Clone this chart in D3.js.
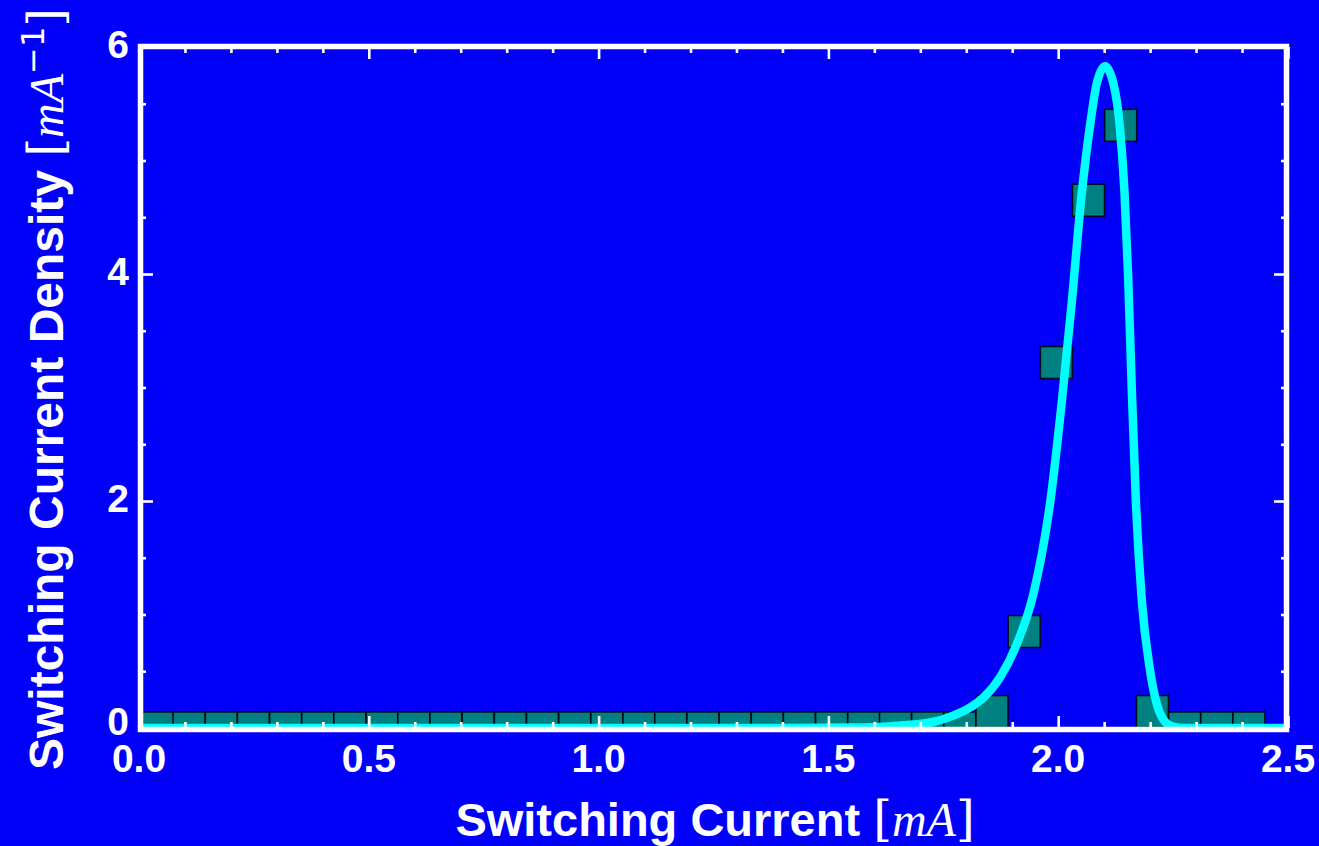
<!DOCTYPE html>
<html>
<head>
<meta charset="utf-8">
<script src="https://cdn.jsdelivr.net/npm/d3@7"></script>
<style>
html,body{margin:0;padding:0;background:#0000f8;}
svg{display:block;}
</style>
</head>
<body>
<svg id="chart" width="1319" height="846"></svg>
<script>
// ---- data ----
const binCenters = [0.040,0.109,0.179,0.249,0.319,0.389,0.459,0.529,0.598,0.668,
  0.738,0.808,0.878,0.948,1.018,1.088,1.157,1.227,1.297,1.367,
  1.437,1.507,1.577,1.646,1.716,1.786,1.856,1.926,1.996,2.066,
  2.136,2.205,2.275,2.345,2.415];
const densities = [0,0,0,0,0,0,0,0,0,0,
  0,0,0,0,0,0,0,0,0,0,
  0,0,0,0,0,0,0.145,0.85,3.22,4.65,
  5.31,0.145,0,0,0];
const fitX = [0,1.40,1.554,1.624,1.684,1.730,1.766,1.804,1.838,1.874,1.910,1.946,1.983,2.008,2.030,2.051,2.069,2.084,2.102,2.120,2.134,2.144,2.152,2.160,2.169,2.182,2.199,2.214,2.228,2.248,2.274,2.5];
const fitY = [0,0,0.004,0.012,0.03,0.055,0.10,0.17,0.27,0.45,0.74,1.18,2.0,2.88,3.77,4.7,5.3,5.68,5.83,5.68,5.3,4.74,4.0,3.0,2.0,1.12,0.53,0.22,0.08,0.015,0,0];
const xTicks = [0.0,0.5,1.0,1.5,2.0,2.5];
const xTickLabels = ["0.0","0.5","1.0","1.5","2.0","2.5"];
const yTicks = [0,2,4,6];
const yTickLabels = ["0","2","4","6"];

// ---- layout ----
const svg = d3.select("#chart");
const W = 1319, H = 846;
const pL = 139, pR = 1288, pT = 47, pB = 728;
const x = d3.scaleLinear().domain([0,2.5]).range([pL,pR]);
const y = d3.scaleLinear().domain([0,6]).range([pB,pT]);

svg.append("rect").attr("width",W).attr("height",H).attr("fill","#0000f8");

const defs = svg.append("defs");
defs.append("clipPath").attr("id","plotclip").append("rect")
  .attr("x",pL).attr("y",pT).attr("width",pR-pL).attr("height",pB-pT+2);

const plot = svg.append("g").attr("clip-path","url(#plotclip)");

// squares (histogram markers)
const sq = 32;
plot.selectAll("rect.sq").data(binCenters.map((c,i)=>({c, v:densities[i]})))
  .enter().append("rect").attr("class","sq")
  .attr("x",d=>x(d.c)-sq/2).attr("y",d=>y(d.v)-sq/2)
  .attr("width",sq).attr("height",sq)
  .attr("fill","#008080").attr("stroke","#000").attr("stroke-width",1.6).attr("stroke-opacity",0.85);

// fit curve
const line = d3.line().x(d=>x(d[0])).y(d=>y(d[1])).curve(d3.curveMonotoneX);
plot.append("path").datum(fitX.map((v,i)=>[v,fitY[i]]))
  .attr("d",line).attr("fill","none").attr("stroke","#00ffff")
  .attr("stroke-width",8.5).attr("stroke-linejoin","round");

// ticks via d3 axes (inward)
const xMinor = d3.range(0,26).map(i=>i/10).filter(v=>!xTicks.some(t=>Math.abs(t-v)<1e-9));
const yMinor = d3.range(0,13).map(i=>i/2).filter(v=>!yTicks.some(t=>Math.abs(t-v)<1e-9));

function styleAxis(g){
  g.select(".domain").remove();
  g.selectAll("line").attr("stroke","#fff").attr("stroke-width",2.6);
  g.selectAll("text").remove();
}
// bottom
svg.append("g").attr("transform",`translate(0,${pB})`)
  .call(d3.axisTop(x).tickValues(xTicks).tickSize(12)).call(styleAxis);
svg.append("g").attr("transform",`translate(0,${pB})`)
  .call(d3.axisTop(x).tickValues(xMinor).tickSize(6)).call(styleAxis);
// top
svg.append("g").attr("transform",`translate(0,${pT})`)
  .call(d3.axisBottom(x).tickValues(xTicks).tickSize(12)).call(styleAxis);
svg.append("g").attr("transform",`translate(0,${pT})`)
  .call(d3.axisBottom(x).tickValues(xMinor).tickSize(6)).call(styleAxis);
// left
svg.append("g").attr("transform",`translate(${pL},0)`)
  .call(d3.axisRight(y).tickValues(yTicks).tickSize(14)).call(styleAxis);
svg.append("g").attr("transform",`translate(${pL},0)`)
  .call(d3.axisRight(y).tickValues(yMinor).tickSize(7)).call(styleAxis);
// right
svg.append("g").attr("transform",`translate(${pR},0)`)
  .call(d3.axisLeft(y).tickValues(yTicks).tickSize(14)).call(styleAxis);
svg.append("g").attr("transform",`translate(${pR},0)`)
  .call(d3.axisLeft(y).tickValues(yMinor).tickSize(7)).call(styleAxis);

// frame
svg.append("rect").attr("x",pL+1.5).attr("y",pT-0.5)
  .attr("width",pR-pL-3).attr("height",pB-pT+2)
  .attr("fill","none").attr("stroke","#fff").attr("stroke-width",5.5);

// tick labels
const lab = svg.append("g").attr("fill","#fff")
  .attr("font-family","'Liberation Sans', Arial, sans-serif").attr("font-weight","bold").attr("font-size",39);
lab.selectAll("text.xl").data(xTicks).enter().append("text")
  .attr("x",d=>x(d)).attr("y",772).attr("text-anchor","middle").text((d,i)=>xTickLabels[i]);
lab.selectAll("text.yl").data(yTicks).enter().append("text")
  .attr("x",129).attr("y",d=>y(d)+(d===0?7:11)).attr("text-anchor","end").text((d,i)=>yTickLabels[i]);

// axis titles
const xt = svg.append("text").attr("x",715).attr("y",836).attr("text-anchor","middle")
  .attr("fill","#fff").attr("font-size",47);
xt.append("tspan").attr("font-family","'Liberation Sans', Arial, sans-serif").attr("font-weight","bold").text("Switching Current ");
xt.append("tspan").attr("font-family","'DejaVu Serif','Liberation Serif', serif").attr("font-weight","normal").attr("font-size",48).text("[");
xt.append("tspan").attr("font-family","'Liberation Serif', serif").attr("font-style","italic").attr("font-weight","normal").attr("font-size",48).text("mA");
xt.append("tspan").attr("font-family","'DejaVu Serif','Liberation Serif', serif").attr("font-weight","normal").attr("font-size",48).text("]");

const yt = svg.append("text").attr("transform","translate(63,389) rotate(-90)").attr("text-anchor","middle")
  .attr("fill","#fff").attr("font-size",48);
yt.append("tspan").attr("font-family","'Liberation Sans', Arial, sans-serif").attr("font-weight","bold").text("Switching Current Density ");
yt.append("tspan").attr("font-family","'DejaVu Serif','Liberation Serif', serif").attr("font-weight","normal").attr("font-size",48).text("[");
yt.append("tspan").attr("font-family","'Liberation Serif', serif").attr("font-style","italic").attr("font-weight","normal").attr("font-size",48).text("mA");
yt.append("tspan").attr("font-family","'DejaVu Sans','Liberation Serif', serif").attr("font-weight","normal").attr("font-size",32).attr("dy",-19).text("−1");
yt.append("tspan").attr("font-family","'DejaVu Serif','Liberation Serif', serif").attr("font-weight","normal").attr("font-size",48).attr("dy",19).text("]");
</script>
</body>
</html>
